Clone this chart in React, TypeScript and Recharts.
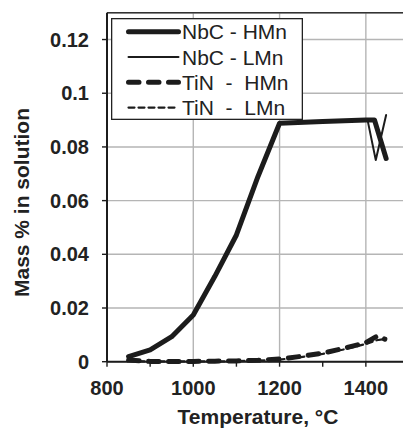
import React from 'react';
import { LineChart, Line, XAxis, YAxis, CartesianGrid, ReferenceLine, Legend, Label } from 'recharts';

// ---- data ----
const nbcHMnTemps = [850, 900, 950, 1000, 1050, 1100, 1150, 1200, 1300, 1400, 1420, 1447];
const nbcHMnValues = [0.0019, 0.0044, 0.0093, 0.0174, 0.0318, 0.0472, 0.069, 0.0888, 0.0895, 0.09, 0.09, 0.0757];

const nbcLMnTemps = [850, 900, 950, 1000, 1050, 1100, 1150, 1200, 1300, 1404, 1423, 1447];
const nbcLMnValues = [0.0019, 0.0044, 0.0093, 0.0174, 0.0318, 0.0472, 0.069, 0.0888, 0.0895, 0.09, 0.0751, 0.0919];

const tinHMnTemps = [850, 900, 950, 1000, 1050, 1100, 1150, 1200, 1250, 1300, 1350, 1400, 1415, 1427, 1444];
const tinHMnValues = [0.0006, 0.0001, 0.0001, 0.0001, 0.0002, 0.0003, 0.0005, 0.001, 0.002, 0.0032, 0.005, 0.0071, 0.0085, 0.0096, 0.0084];

const tinLMnTemps = [850, 900, 950, 1000, 1050, 1100, 1150, 1200, 1250, 1300, 1350, 1400, 1425, 1447];
const tinLMnValues = [0.0003, 0.0001, 0.0001, 0.0001, 0.0001, 0.0002, 0.0004, 0.0008, 0.0017, 0.0029, 0.0046, 0.0066, 0.008, 0.0085];

const seriesNames = ['NbC - HMn', 'NbC - LMn', 'TiN  -  HMn', 'TiN  -  LMn'];

const xTicks = [800, 900, 1000, 1100, 1200, 1300, 1400, 1500];
const xLabelTicks = [800, 1000, 1200, 1400];
const xGrid = [1000, 1200, 1400];
const yTicks = [0, 0.02, 0.04, 0.06, 0.08, 0.1, 0.12];
const yMax = 0.13;

const toRows = (t: number[], v: number[]) => t.map((x, i) => ({ t: x, v: v[i] }));

const seriesData = [
  toRows(nbcHMnTemps, nbcHMnValues),
  toRows(nbcLMnTemps, nbcLMnValues),
  toRows(tinHMnTemps, tinHMnValues),
  toRows(tinLMnTemps, tinLMnValues),
];

// ---- styles ----
const INK = '#1c1c1c';
const FONT = '"Liberation Sans", Arial, sans-serif';
const seriesStyles = [
  { strokeWidth: 5, dash: undefined as string | undefined },
  { strokeWidth: 2, dash: undefined as string | undefined },
  { strokeWidth: 5, dash: '10.5 9.5' },
  { strokeWidth: 2.2, dash: '6 4' },
];

const renderLegend = (props: any) => {
  const payload = props.payload || [];
  return (
    <svg width={192} height={102} style={{ display: 'block' }}>
      <rect x={0.65} y={0.65} width={190.7} height={100.7} fill="#fff" stroke="#222" strokeWidth={1.3} />
      {payload.map((p: any, i: number) => {
        const idx = seriesNames.indexOf(p.value);
        const st = seriesStyles[idx >= 0 ? idx : i];
        const cy = 13.7 + i * 25.3;
        return (
          <g key={i}>
            <line
              x1={17.5}
              x2={67.5}
              y1={cy}
              y2={cy}
              stroke={INK}
              strokeWidth={st.strokeWidth}
              strokeDasharray={st.dash}
              strokeLinecap="round"
            />
            <text
              x={71}
              y={cy}
              dy="0.36em"
              fontSize={21}
              fontFamily={FONT}
              fill="#222"
              style={{ whiteSpace: 'pre' }}
            >
              {p.value}
            </text>
          </g>
        );
      })}
    </svg>
  );
};

const YLabel = () => (
  <text
    x={28.5}
    y={202.5}
    transform="rotate(-90 28.5 202.5)"
    textAnchor="middle"
    fontSize={21}
    fontWeight="bold"
    fontFamily={FONT}
    fill="#222"
  >
    Mass % in solution
  </text>
);

export default function App() {
  return (
    <div style={{ position: 'absolute', left: 0, top: 0, width: 403, height: 430, overflow: 'hidden', background: '#fff' }}>
      <LineChart width={420} height={430} margin={{ top: 12.7, right: 11, bottom: 0, left: 0 }}>
        <CartesianGrid vertical={false} stroke="#b5b5b5" strokeWidth={1.4} />
        {xGrid.map((x) => (
          <ReferenceLine key={x} x={x} stroke="#b5b5b5" strokeWidth={1.4} />
        ))}
        <ReferenceLine y={yMax} stroke="#333" strokeWidth={1.4} />
        <XAxis
          type="number"
          dataKey="t"
          domain={[800, 1500]}
          ticks={xTicks}
          allowDataOverflow
          interval={0}
          height={68.3}
          tickSize={5}
          tickMargin={14}
          tickLine={{ stroke: INK, strokeWidth: 1.4 }}
          axisLine={{ stroke: INK, strokeWidth: 2 }}
          tickFormatter={(v: number) => (xLabelTicks.includes(v) ? String(v) : '')}
          tick={{ fontSize: 20, fontWeight: 'bold', fill: '#222', fontFamily: FONT }}
        >
          <Label value="Temperature, °C" position="insideBottom" offset={6} fontSize={21} fontWeight="bold" fill="#222" fontFamily={FONT} />
        </XAxis>
        <YAxis
          type="number"
          domain={[0, yMax]}
          ticks={yTicks}
          interval={0}
          width={107}
          tickSize={5}
          tickMargin={13}
          tickLine={{ stroke: INK, strokeWidth: 1.4 }}
          axisLine={{ stroke: INK, strokeWidth: 2 }}
          tick={{ fontSize: 20, fontWeight: 'bold', fill: '#222', fontFamily: FONT }}
        >
          <Label content={<YLabel />} />
        </YAxis>
        {seriesData.map((d, i) => (
          <Line
            key={seriesNames[i]}
            data={d}
            dataKey="v"
            name={seriesNames[i]}
            type="linear"
            stroke={INK}
            strokeWidth={seriesStyles[i].strokeWidth}
            strokeDasharray={seriesStyles[i].dash}
            strokeLinecap="round"
            strokeLinejoin="round"
            dot={false}
            activeDot={false}
            isAnimationActive={false}
          />
        ))}
        <Legend
          layout="vertical"
          align="center"
          verticalAlign="middle"
          wrapperStyle={{ left: 110.7, top: 18.3, width: 192, height: 102 }}
          content={renderLegend}
        />
      </LineChart>
    </div>
  );
}
